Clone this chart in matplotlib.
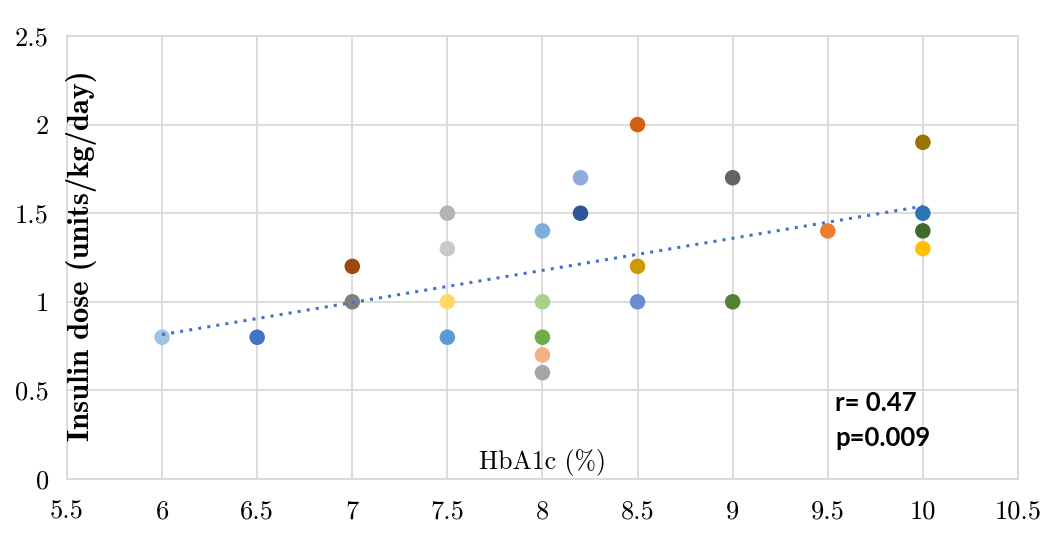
import matplotlib.pyplot as plt
import numpy as np

# HbA1c (%) vs insulin dose (units/kg/day)
hba1c = [6, 6.5, 7, 7, 7.5, 7.5, 7.5, 7.5, 8, 8, 8, 8, 8,
         8.2, 8.2, 8.5, 8.5, 8.5, 9, 9, 9.5, 10, 10, 10, 10]
dose = [0.8, 0.8, 1.2, 1.0, 1.5, 1.3, 1.0, 0.8, 1.4, 1.0, 0.8, 0.7, 0.6,
        1.7, 1.5, 2.0, 1.2, 1.0, 1.7, 1.0, 1.4, 1.9, 1.5, 1.4, 1.3]
colors = ["#9DC3E6", "#4472C4", "#9E480E", "#7F7F7F", "#B4B4B4", "#C9C9C9",
          "#FFD966", "#5B9BD5", "#7CAFDD", "#A9D18E", "#70AD47", "#F4B183",
          "#A5A5A5", "#8FAADC", "#2F5597", "#D26012", "#CC9900", "#698ED0",
          "#636363", "#548235", "#ED7D31", "#997300", "#2E75B6", "#43682B",
          "#FFC000"]
xticks = ["5.5", "6", "6.5", "7", "7.5", "8", "8.5", "9", "9.5", "10", "10.5"]
yticks = ["0", "0.5", "1", "1.5", "2", "2.5"]

fig = plt.figure(figsize=(10.43, 5.34), dpi=100)
ax = fig.add_axes([0.0642, 0.103, 0.9118, 0.8296])

ax.scatter(hba1c, dose, s=125, c=colors, zorder=3, linewidths=0)

# linear trendline
k, b = np.polyfit(hba1c, dose, 1)
xt = np.array([min(hba1c), max(hba1c)])
ax.plot(xt, k * xt + b, color="#4472C4", linestyle=(0, (1, 2)),
        linewidth=2.2, zorder=4)

ax.set_xlim(5.5, 10.5)
ax.set_ylim(0, 2.5)
ax.set_xticks(np.arange(5.5, 10.51, 0.5))
ax.set_yticks(np.arange(0, 2.51, 0.5))
tick_font = {"family": "cmr10", "size": 19}
ax.set_xticklabels(xticks, fontdict=tick_font)
ax.set_yticklabels(yticks, fontdict=tick_font)
ax.tick_params(axis="x", length=0, pad=15)
ax.tick_params(axis="y", length=0, pad=13)
ax.grid(True, color="#D9D9D9", linewidth=1.3)
ax.set_axisbelow(True)
for s in ax.spines.values():
    s.set_color("#D9D9D9")
    s.set_linewidth(1.3)

ax.text(0.015, 0.505, "Insulin dose (units/kg/day)", transform=ax.transAxes,
        rotation=90, va="center", ha="center", family="cmb10", fontsize=22)
ax.text(0.5, 0.038, "HbA1c (%)", transform=ax.transAxes, ha="center",
        va="center", family="cmr10", fontsize=18.5)
ax.text(9.54, 0.43, "r= 0.47", ha="left", va="center", family="Lato",
        fontweight="bold", fontsize=18.5)
ax.text(9.54, 0.23, "p=0.009", ha="left", va="center", family="Lato",
        fontweight="bold", fontsize=18.5)

fig.savefig("out.png", dpi=100)
